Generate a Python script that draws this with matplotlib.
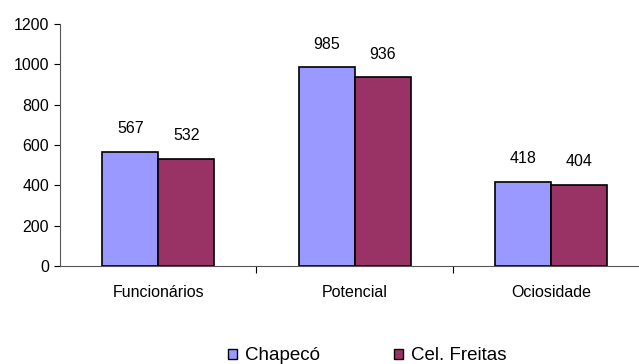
import matplotlib
matplotlib.use("Agg")
import matplotlib.pyplot as plt
import numpy as np
from matplotlib.patches import Patch

categories = ["Funcionários", "Potencial", "Ociosidade"]
series_names = ["Chapecó", "Cel. Freitas"]
chapeco = [567, 985, 418]
cel_freitas = [532, 936, 404]
yticks = [0, 200, 400, 600, 800, 1000, 1200]

colors = ["#9999FF", "#993366"]

plt.rcParams["font.family"] = ["Liberation Sans", "DejaVu Sans"]

W, H = 639, 364
fig = plt.figure(figsize=(W / 100, H / 100), dpi=100)
# axes extends past the right edge of the figure, as in the original chart
left, bottom, top = 60, 266, 24
cat_w = 196.5
ax = fig.add_axes([left / W, (H - bottom) / H, 3 * cat_w / W, (bottom - top) / H])

fs = 11.5
x = np.arange(len(categories))
bw = 0.285
for i, (vals, c) in enumerate(zip([chapeco, cel_freitas], colors)):
    pos = x + (i - 0.5) * bw
    ax.bar(pos, vals, width=bw, color=c, edgecolor="black", linewidth=1.2, zorder=3)
    for p, v in zip(pos, vals):
        ax.text(p, v + 115, str(v), ha="center", va="center", fontsize=fs)

ax.set_xlim(-0.5, 2.5)
ax.set_ylim(0, 1200)
ax.set_yticks(yticks)
ax.tick_params(axis="y", direction="out", length=4, width=0.8, labelsize=fs, pad=4)

ax.set_xticks([0.5, 1.5])
ax.set_xticklabels([])
ax.set_xticks(x, minor=True)
ax.set_xticklabels(categories, minor=True, fontsize=fs)
ax.tick_params(axis="x", which="major", direction="out", length=5, width=0.8)
ax.tick_params(axis="x", which="minor", length=0, pad=14)

for s in ["top", "right"]:
    ax.spines[s].set_visible(False)
for s in ["left", "bottom"]:
    ax.spines[s].set_linewidth(0.8)
    ax.spines[s].set_color("#555555")

handles = [Patch(facecolor=c, edgecolor="black", linewidth=1.0) for c in colors]
fig.legend(handles, series_names, loc="center", bbox_to_anchor=(367 / W, 1 - 356 / H),
           ncol=2, frameon=False, fontsize=13.5, handlelength=0.5, handleheight=0.5,
           handletextpad=0.4, columnspacing=3.95)

fig.savefig("out.png", dpi=100)
